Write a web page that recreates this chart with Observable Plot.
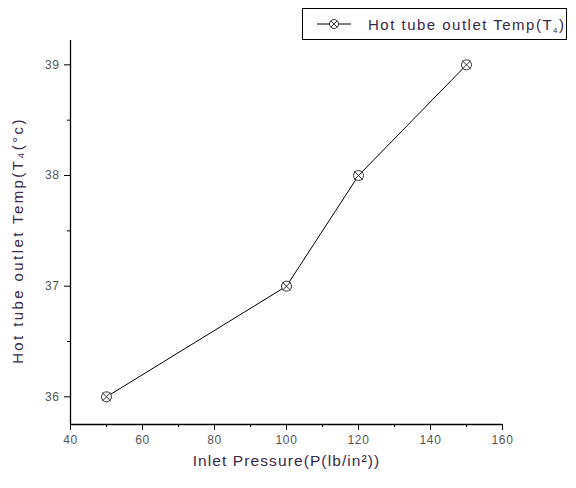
<!DOCTYPE html>
<html>
<head>
<meta charset="utf-8">
<script src="https://cdn.jsdelivr.net/npm/d3@7"></script>
<script src="https://cdn.jsdelivr.net/npm/@observablehq/plot@0.6"></script>
<style>
  body { margin:0; background:#fff; font-family:"Liberation Sans", Arial, sans-serif; }
  #wrap { position:relative; width:576px; height:488px; }
  #legend { position:absolute; left:302px; top:8px; }
</style>
</head>
<body>
<div id="wrap">
  <div id="chart"></div>
  <svg id="legend" width="266" height="33" font-family="Liberation Sans, Arial, sans-serif">
    <rect x="0.5" y="0.5" width="264" height="31" fill="#fff" stroke="#000" stroke-width="1"/>
    <line x1="15" y1="16" x2="49" y2="16" stroke="#000" stroke-width="1"/>
    <circle cx="32" cy="16" r="4.5" fill="#fff" stroke="#333"/>
    <path d="M29 13L35 19M35 13L29 19" stroke="#333"/>
    <text x="66" y="21.5" font-size="15" fill="#3a2a4a" textLength="196" lengthAdjust="spacing">Hot tube outlet Temp(T<tspan font-size="8" dy="3">4</tspan><tspan dy="-3">)</tspan></text>
  </svg>
</div>
<script>
const pressure = [50, 100, 120, 150];
const temp = [36, 37, 38, 39];
const xMajor = [40, 60, 80, 100, 120, 140, 160];
const xMinor = [50, 70, 90, 110, 130, 150];
const yMajor = [36, 37, 38, 39];
const yMinor = [36.5, 37.5, 38.5];
const xLabel = "Inlet Pressure(P(lb/in²))";
const yLabel = "Hot tube outlet Temp(T₄(°c)";

const data = pressure.map((p, i) => ({x: p, y: temp[i]}));

const chart = Plot.plot({
  width: 576, height: 488,
  marginLeft: 70, marginRight: 74, marginTop: 40, marginBottom: 64,
  style: {fontFamily: "Liberation Sans, Arial, sans-serif", background: "#fff"},
  x: {domain: [40, 160]},
  y: {domain: [35.75, 39.22]},
  marks: [
    Plot.axisX({ticks: xMajor, tickSize: 6, tickPadding: 5, fontSize: 12, color: "#555", stroke: "#000", label: null, tickFormat: d => d}),
    Plot.axisX({ticks: xMinor, tickSize: 3, tickFormat: () => "", label: null, stroke: "#000"}),
    Plot.axisY({ticks: yMajor, tickSize: 6, tickPadding: 5, fontSize: 12, color: "#555", stroke: "#000", label: null, tickFormat: d => d}),
    Plot.axisY({ticks: yMinor, tickSize: 3, tickFormat: () => "", label: null, stroke: "#000"}),
    Plot.ruleY([35.75], {stroke: "#000", strokeWidth: 1.3}),
    Plot.ruleX([40], {stroke: "#000", strokeWidth: 1.3}),
    Plot.line(data, {x: "x", y: "y", stroke: "#000", strokeWidth: 1}),
    Plot.dot(data, {x: "x", y: "y", r: 5, stroke: "#333", fill: "#fff", strokeWidth: 1}),
    Plot.dot(data, {x: "x", y: "y", symbol: "times", r: 4, stroke: "#333", strokeWidth: 1}),
    Plot.text([xLabel], {frameAnchor: "bottom", dy: 37, fontSize: 15.5, fill: "#3a2a4a", lineAnchor: "middle", textAnchor: "middle"}),
    Plot.text([yLabel], {frameAnchor: "left", dx: -52, dy: 8, rotate: -90, fontSize: 15, fill: "#3a2a4a", lineAnchor: "middle", textAnchor: "middle"})
  ]
});
d3.select(chart).selectAll("text").each(function() {
  const t = this.textContent;
  if (t === xLabel) this.setAttribute("letter-spacing", "1.1");
  else if (t === yLabel) this.setAttribute("letter-spacing", "2.4");
  else if (/^\d+$/.test(t)) this.setAttribute("letter-spacing", "0.6");
});
document.getElementById("chart").appendChild(chart);
</script>
</body>
</html>
